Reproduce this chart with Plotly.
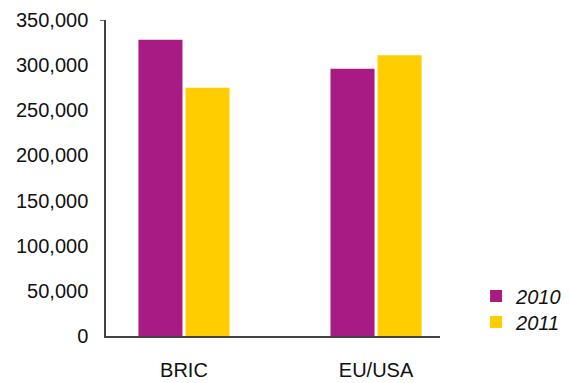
import plotly.graph_objects as go

categories = ["BRIC", "EU/USA"]
years = ["2010", "2011"]
values_2010 = [328000, 296000]
values_2011 = [275000, 311000]
tick_vals = [0, 50000, 100000, 150000, 200000, 250000, 300000, 350000]
tick_text = ["0", "50,000", "100,000", "150,000", "200,000", "250,000", "300,000", "350,000"]

purple = "#A91B84"
yellow = "#FFCD00"
font_family = "Liberation Sans, Arial, Helvetica, sans-serif"
text_color = "#111111"

fig = go.Figure()
fig.add_trace(go.Bar(name=years[0], x=[0, 1], y=values_2010, marker_color=purple,
                     marker_line_width=0, legend="legend"))
fig.add_trace(go.Bar(name=years[1], x=[0, 1], y=values_2011, marker_color=yellow,
                     marker_line_width=0, legend="legend2"))

legend_font = dict(family=font_family, size=20, color=text_color, style="italic")

fig.update_layout(
    width=570, height=383,
    margin=dict(l=106, r=130, t=20, b=47, autoexpand=False),
    paper_bgcolor="white", plot_bgcolor="white",
    barmode="group", bargap=0.51, bargroupgap=0.064,
    font=dict(family=font_family, size=20, color=text_color),
    showlegend=True,
    legend=dict(
        x=1.108, xanchor="left", y=(336 - 296) / 316, yanchor="middle",
        font=legend_font, bgcolor="rgba(0,0,0,0)", itemclick=False,
    ),
    legend2=dict(
        x=1.108, xanchor="left", y=(336 - 322) / 316, yanchor="middle",
        font=legend_font, bgcolor="rgba(0,0,0,0)", itemclick=False,
    ),
    xaxis=dict(
        range=[-0.406, 1.333], tickvals=[0, 1], ticktext=categories,
        showline=True, linecolor="#444", linewidth=1.5, ticks="",
        showgrid=False, zeroline=False, ticklabelstandoff=15, automargin=False,
        tickfont=dict(size=20, color=text_color),
    ),
    yaxis=dict(
        range=[0, 350000], tickvals=tick_vals, ticktext=tick_text,
        showline=True, linecolor="#444", linewidth=1.5, ticks="",
        showgrid=False, zeroline=False, ticklabelstandoff=12, automargin=False,
        tickfont=dict(size=20, color=text_color),
    ),
    shapes=[dict(type="line", xref="paper", yref="y", x0=-0.018, x1=0, y0=350000, y1=350000,
                 line=dict(color="#444", width=1.5))],
)

fig.write_html("out.html")
